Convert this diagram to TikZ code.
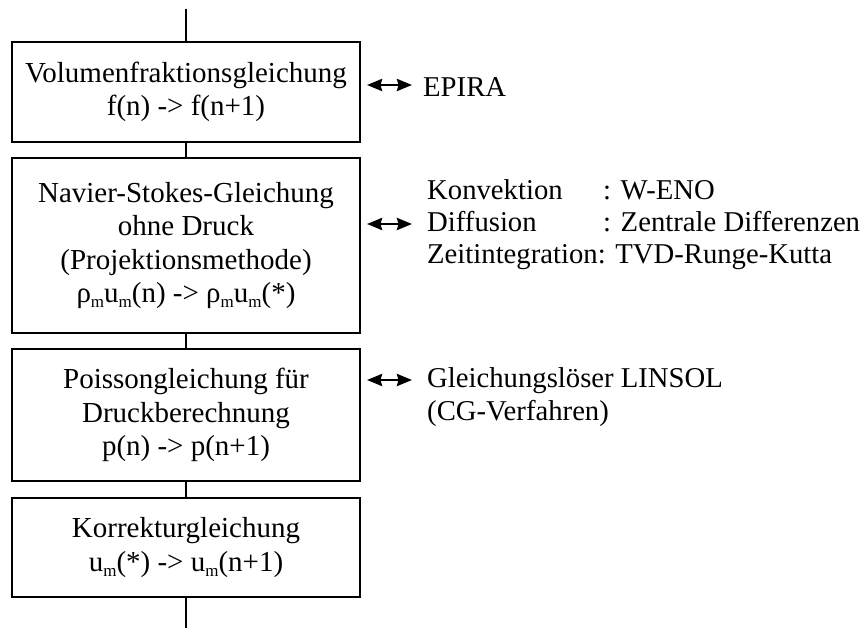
\documentclass[tikz,border=0pt]{standalone}
\usepackage{fontspec}
\setmainfont{Liberation Serif}
\usetikzlibrary{arrows.meta}
\newcommand{\msub}{\raisebox{-0.17em}{\fontsize{17}{17}\selectfont m}}
\begin{document}
\begin{tikzpicture}[x=1pt,y=-1pt,
  box/.style={draw, line width=1.7pt, minimum width=348pt, inner sep=0pt, align=center,
    font=\fontsize{29}{33.5}\selectfont},
  side/.style={anchor=base west, inner sep=0pt, font=\fontsize{28.7}{33}\selectfont},
  link/.style={line width=1.7pt},
  dbl/.style={line width=2.8pt, {Stealth[length=15pt,width=12pt,inset=1.5pt]}-{Stealth[length=15pt,width=12pt,inset=1.5pt]}}]
\useasboundingbox (0,0) rectangle (865,628);

% main boxes
\node[box, minimum height=100pt] (b1) at (186,92) {Volumenfraktionsgleichung\\f(n) -> f(n+1)};
\node[box, minimum height=175pt] (b2) at (186,245.5) {Navier-Stokes-Gleichung\\ohne Druck\\(Projektionsmethode)\\ρ\msub u\msub(n) -> ρ\msub u\msub(*)};
\node[box, minimum height=132pt] (b3) at (186,415) {Poissongleichung für\\Druckberechnung\\p(n) -> p(n+1)};
\node[box, minimum height=99pt] (b4) at (186,547.5) {Korrekturgleichung\\u\msub(*) -> u\msub(n+1)};

\coordinate (top) at (186,9);
\coordinate (bot) at (186,628);
\draw[link] (top) -- (b1.north);
\draw[link] (b1.south) -- (b2.north);
\draw[link] (b2.south) -- (b3.north);
\draw[link] (b3.south) -- (b4.north);
\draw[link] (b4.south) -- (bot);

% side texts
\node[side] (t1) at (423,97) {EPIRA};
\node[side] (k1) at (427,200) {Konvektion};
\node[side] (k2) at (603,200) {: W-ENO};
\node[side] (d1) at (427,232) {Diffusion};
\node[side] (d2) at (603,232) {: Zentrale Differenzen};
\node[side] (z1) at (427,264) {Zeitintegration: TVD-Runge-Kutta};
\node[side] (g1) at (427,388) {Gleichungslöser LINSOL};
\node[side] (g2) at (427,420) {(CG-Verfahren)};

% double arrows
\coordinate (a1l) at (367,85);
\coordinate (a1r) at (412,85);
\coordinate (a2l) at (367,224);
\coordinate (a2r) at (412,224);
\coordinate (a3l) at (367,380);
\coordinate (a3r) at (412,380);
\draw[dbl] (a1l) -- (a1r);
\draw[dbl] (a2l) -- (a2r);
\draw[dbl] (a3l) -- (a3r);
\end{tikzpicture}
\end{document}
